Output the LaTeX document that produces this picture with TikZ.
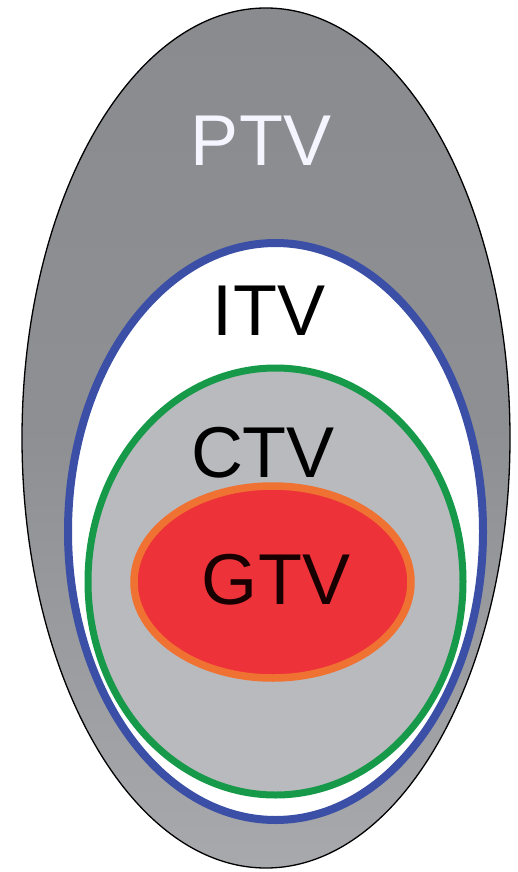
\documentclass[tikz,border=0pt]{standalone}
\usepackage{fontspec}
\setmainfont{Liberation Sans}
\definecolor{ptvgray}{HTML}{898B8F}
\definecolor{ptvlight}{HTML}{A8A9AD}
\definecolor{itvblue}{HTML}{3A4FA5}
\definecolor{ctvgreen}{HTML}{17994A}
\definecolor{ctvgray}{HTML}{B9BABE}
\definecolor{gtvorange}{HTML}{F07232}
\definecolor{gtvred}{HTML}{EE3239}
\tikzset{
  lbl/.style={font=\fontsize{72}{80}\selectfont, anchor=base, inner sep=0pt},
}
\begin{document}
\begin{tikzpicture}[x=1pt,y=-1pt]
\useasboundingbox (0,0) rectangle (518,872);
\fill[white] (0,0) rectangle (518,872);
% PTV
\shade[top color=ptvgray, bottom color=ptvlight, middle color=ptvgray!85!ptvlight]
  (266,438) ellipse [x radius=244pt, y radius=430pt];
\draw[black, line width=1.3pt] (266,438) ellipse [x radius=244pt, y radius=430pt];
% ITV
\filldraw[fill=white, draw=itvblue, line width=8pt]
  (275.5,531.5) ellipse [x radius=207.5pt, y radius=288.5pt];
% CTV
\filldraw[fill=ctvgray, draw=ctvgreen, line width=7pt]
  (275.5,581.5) ellipse [x radius=187.5pt, y radius=213.5pt];
% GTV
\filldraw[fill=gtvred, draw=gtvorange, line width=7.5pt]
  (272.5,582) ellipse [x radius=138.5pt, y radius=96pt];
% labels
\node[lbl, text=white!96!blue] (ptv) at (261,165) {PTV};
\node[lbl, text=black] (itv) at (269,335) {ITV};
\node[lbl, text=black] (ctv) at (263,477) {CTV};
\node[lbl, text=black!90!red] (gtv) at (276,604) {GTV};
\end{tikzpicture}
\end{document}
